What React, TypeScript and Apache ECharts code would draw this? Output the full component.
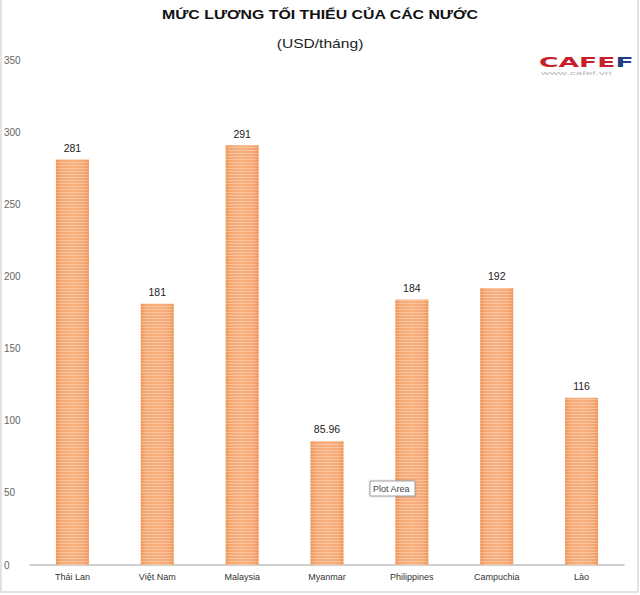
import React, { useEffect, useRef } from "react";
import * as echarts from "echarts";

const categories = ["Thái Lan", "Việt Nam", "Malaysia", "Myanmar", "Philippines", "Campuchia", "Lào"];
const wages = [281, 181, 291, 85.96, 184, 192, 116];
const titleText = "MỨC LƯƠNG TỐI THIỂU CỦA CÁC NƯỚC";
const subtitleText = "(USD/tháng)";

export default function App() {
  const ref = useRef<HTMLDivElement>(null);
  useEffect(() => {
    if (!ref.current) return;
    const chart = echarts.init(ref.current, null, { renderer: "svg" });
    chart.setOption({
      animation: false,
      backgroundColor: "#ffffff",
      grid: { left: 30, right: 16, top: 60, bottom: 30 },
      xAxis: {
        type: "category",
        data: categories,
        axisLine: { lineStyle: { color: "#bfbfbf", width: 1.5 } },
        axisTick: { show: false },
        axisLabel: { color: "#333", fontSize: 9, margin: 7, fontFamily: "Liberation Sans" },
      },
      yAxis: {
        type: "value",
        min: 0,
        max: 350,
        interval: 50,
        splitLine: { show: false },
        axisLine: { show: false },
        axisTick: { show: false },
        axisLabel: { color: "#666", fontSize: 10, align: "left", margin: 26, fontFamily: "Liberation Sans" },
      },
      series: [
        {
          type: "bar",
          data: wages,
          barWidth: 33,
          itemStyle: {
            color: {
              type: "linear", x: 0, y: 0, x2: 1, y2: 0,
              colorStops: [
                { offset: 0, color: "#ef9152" },
                { offset: 0.15, color: "#f6a874" },
                { offset: 0.5, color: "#f8b07e" },
                { offset: 0.85, color: "#f6a874" },
                { offset: 1, color: "#ef9152" },
              ],
            },
            decal: {
              symbol: "rect",
              symbolSize: 1,
              dashArrayX: [1, 0],
              dashArrayY: [1, 2],
              rotation: 0,
              color: "rgba(255,255,255,0.3)",
            },
          },
          label: {
            show: true,
            position: "top",
            distance: 6,
            color: "#222",
            fontSize: 10.5,
            fontFamily: "Liberation Sans",
          },
        },
      ],
      graphic: [
        {
          type: "rect",
          z: 100,
          shape: { x: 1, y: -5, width: 637, height: 597 },
          style: { fill: "none", stroke: "#d9d9d9", lineWidth: 1.5 },
          silent: true,
        },
        {
          type: "text",
          z: 100,
          x: 320,
          y: 15,
          scaleX: 1.27,
          style: {
            text: titleText,
            fill: "#111",
            font: "bold 12.5px 'Liberation Sans'",
            align: "center",
            verticalAlign: "middle",
          },
        },
        {
          type: "text",
          z: 100,
          x: 320,
          y: 44,
          scaleX: 1.3,
          style: {
            text: subtitleText,
            fill: "#222",
            font: "12px 'Liberation Sans'",
            align: "center",
            verticalAlign: "middle",
          },
        },
        {
          type: "text",
          z: 100,
          x: 539,
          y: 62,
          scaleX: 1.9,
          style: {
            text: "{r|CAFE}{b|F}",
            align: "left",
            verticalAlign: "middle",
            rich: {
              r: { fill: "#c8202a", font: "bold 14px 'DejaVu Sans'" },
              b: { fill: "#1f3f7e", font: "bold 14px 'DejaVu Sans'" },
            },
          },
        },
        {
          type: "text",
          z: 100,
          x: 541,
          y: 73,
          scaleX: 2.4,
          style: {
            text: "www.cafef.vn",
            fill: "#b8b8b8",
            font: "5px 'Liberation Sans'",
            align: "left",
            verticalAlign: "middle",
          },
        },
        {
          type: "rect",
          z: 100,
          shape: { x: 370, y: 481, width: 45, height: 15 },
          style: { fill: "#ffffff", stroke: "#a0a0a0", lineWidth: 1, shadowBlur: 2, shadowColor: "rgba(0,0,0,0.2)" },
        },
        {
          type: "text",
          z: 101,
          x: 373,
          y: 489,
          style: {
            text: "Plot Area",
            fill: "#444",
            font: "9px 'Liberation Sans'",
            align: "left",
            verticalAlign: "middle",
          },
        },
      ],
    });
    return () => chart.dispose();
  }, []);
  return <div ref={ref} style={{ position: "fixed", left: 0, top: 0, width: 640, height: 595 }} />;
}
